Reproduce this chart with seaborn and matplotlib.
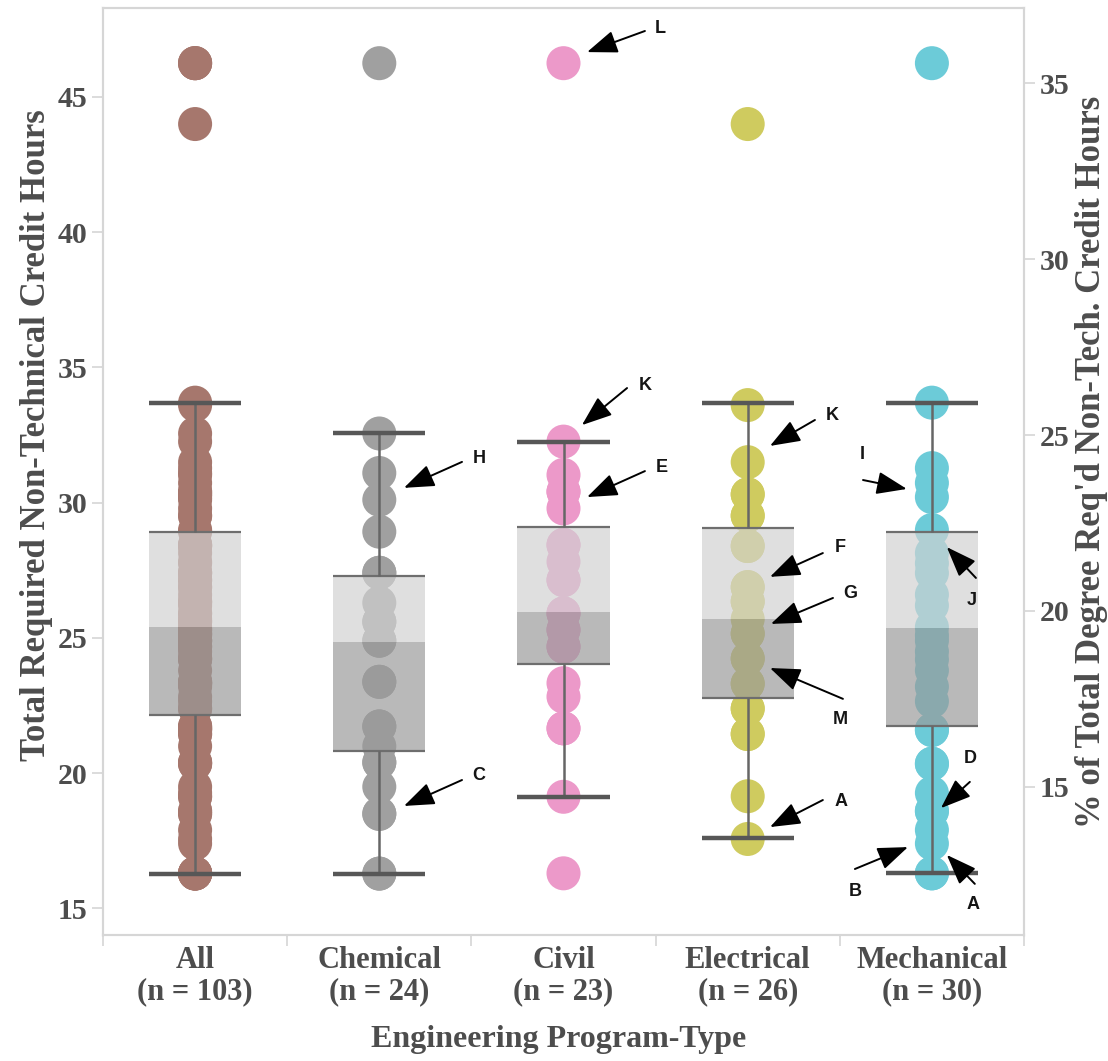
import numpy as np
import pandas as pd
import matplotlib
matplotlib.use("Agg")
import matplotlib.pyplot as plt
import seaborn as sns

# ---------------- data ----------------
categories = ["All", "Chemical", "Civil", "Electrical", "Mechanical"]
counts = [103, 24, 23, 26, 30]

chemical = [46.25, 32.56, 31.10, 30.11, 28.93, 27.41, 27.41, 26.3, 25.6, 25.6,
            24.9, 24.9, 23.38, 23.38, 21.73, 21.73, 21.0, 20.4, 20.4, 19.5,
            18.5, 18.5, 16.29, 16.29]
civil = [46.25, 32.26, 31.03, 30.41, 30.41, 29.79, 28.44, 28.44, 27.82, 27.14,
         27.14, 25.91, 25.91, 25.3, 25.3, 24.68, 24.68, 23.33, 22.83, 21.66,
         21.66, 19.13, 16.30]
electrical = [44.0, 33.61, 31.5, 30.31, 30.31, 29.52, 29.52, 28.4, 28.4, 26.88,
              26.88, 26.35, 26.35, 25.7, 25.16, 25.16, 24.24, 24.24, 23.31, 23.31,
              22.39, 22.39, 21.45, 21.45, 19.15, 17.57]
mechanical = [46.25, 33.7, 31.28, 30.73, 30.21, 28.99, 28.14, 27.76, 27.4, 26.6,
              26.2, 25.4, 25.1, 24.9, 24.5, 24.2, 23.8, 23.2, 22.66, 21.6,
              21.6, 20.35, 20.35, 19.27, 18.6, 18.6, 17.9, 17.4, 16.30, 16.30]
all_programs = chemical + civil + electrical + mechanical

# box-plot statistics (hours)
q1 = [22.17, 20.83, 24.03, 22.79, 21.74]
median = [25.39, 24.86, 25.97, 25.69, 25.38]
q3 = [28.90, 27.28, 29.12, 29.08, 28.91]
whisker_low = [16.29, 16.29, 19.13, 17.60, 16.30]
whisker_high = [33.68, 32.56, 32.26, 33.68, 33.70]

total_degree_hours = 130.0          # right axis: % of total degree hours
left_ticks = [15, 20, 25, 30, 35, 40, 45]
right_ticks = [15, 20, 25, 30, 35]

colors = ["#a6776d", "#a0a0a0", "#ec99c9", "#cfcb5f", "#6ccbd8"]

# ---------------- style ----------------
sns.set_theme(style="white")
plt.rcParams["font.family"] = ["Liberation Serif", "DejaVu Serif"]
plt.rcParams["font.weight"] = "bold"
plt.rcParams["axes.labelweight"] = "bold"

W, H = 1108, 1061
fig = plt.figure(figsize=(W / 100, H / 100), dpi=100)
ax = fig.add_axes([103 / W, 1 - 935 / H, 921 / W, 927 / H])

series = [all_programs, chemical, civil, electrical, mechanical]
df = pd.DataFrame({
    "Program": np.repeat(categories, [len(s) for s in series]),
    "Hours": np.concatenate(series),
})

sns.stripplot(data=df, x="Program", y="Hours", hue="Program", order=categories,
              hue_order=categories, palette=colors, jitter=False, size=24.5,
              linewidth=0, legend=False, ax=ax, zorder=2)

xs = np.arange(len(categories))
bw = 0.5
q1a, meda, q3a = np.array(q1), np.array(median), np.array(q3)
ax.bar(xs, meda - q1a, bottom=q1a, width=bw, color="#999999", alpha=0.68,
       linewidth=0, zorder=3)
ax.bar(xs, q3a - meda, bottom=meda, width=bw, color="#d1d1d1", alpha=0.68,
       linewidth=0, zorder=3)
ax.hlines(q1, xs - bw / 2, xs + bw / 2, color="#6e6e6e", lw=1.6, zorder=4)
ax.hlines(q3, xs - bw / 2, xs + bw / 2, color="#6e6e6e", lw=1.6, zorder=4)
ax.vlines(xs, q3, whisker_high, color="#666666", lw=1.8, zorder=4)
ax.vlines(xs, whisker_low, q1, color="#666666", lw=1.8, zorder=4)
ax.hlines(whisker_high, xs - bw / 2, xs + bw / 2, color="#575757", lw=3.2, zorder=4)
ax.hlines(whisker_low, xs - bw / 2, xs + bw / 2, color="#575757", lw=3.2, zorder=4)

ylo, yhi = 14.02, 48.29
ax.set_xlim(-0.5, 4.5)
ax.set_ylim(ylo, yhi)

txt_col = "#4d4d4d"
grid_col = "#d6d6d6"

ax.set_yticks(left_ticks)
ax.set_yticklabels([str(t) for t in left_ticks])
ax.tick_params(axis="y", left=True, length=8, width=1.2, color=grid_col,
               labelsize=21.5, labelcolor=txt_col, pad=3)
ax.set_xticks(xs)
ax.set_xticklabels([f"{c}\n(n = {n})" for c, n in zip(categories, counts)],
                   linespacing=1.1)
ax.set_xticks(np.arange(-0.5, 5.0, 1.0), minor=True)
ax.tick_params(axis="x", which="major", length=0, labelsize=22, labelcolor=txt_col, pad=8)
ax.tick_params(axis="x", which="minor", bottom=True, length=8, width=1.2, color=grid_col)

for sp in ax.spines.values():
    sp.set_color(grid_col)
    sp.set_linewidth(1.5)

ax.set_xlabel("Engineering Program-Type", fontsize=23, color=txt_col, fontweight="bold")
ax.xaxis.set_label_coords(0.495, -0.113)
ax.xaxis.label.set_va("center")
ax.set_ylabel("Total Required Non-Technical Credit Hours", fontsize=25,
              color=txt_col, fontweight="bold")
ax.yaxis.set_label_coords(-0.0727, 0.539)
ax.yaxis.label.set_va("center")

ax2 = ax.twinx()
ax2.set_ylim(ylo * 100 / total_degree_hours, yhi * 100 / total_degree_hours)
ax2.set_yticks(right_ticks)
ax2.set_yticklabels([str(t) for t in right_ticks])
ax2.tick_params(axis="y", right=True, length=8, width=1.2, color=grid_col,
                labelsize=21.5, labelcolor=txt_col, pad=3)
for sp in ax2.spines.values():
    sp.set_color(grid_col)
    sp.set_linewidth(1.5)
ax2.set_ylabel("% of Total Degree Req'd Non-Tech. Credit Hours", fontsize=25,
               color=txt_col, rotation=90, fontweight="bold")
ax2.yaxis.set_label_coords(1.073, 0.51)
ax2.yaxis.label.set_va("center")

# ---------------- annotations: (label, arrow head, arrow tail, label pos) ----------------
annotations = [
    ("L", (2.128, 46.66), (2.442, 47.44), (2.524, 47.55)),
    ("K", (2.100, 32.87), (2.345, 34.24), (2.442, 34.35)),
    ("E", (2.128, 30.21), (2.442, 31.17), (2.535, 31.32)),
    ("H", (1.134, 30.55), (1.449, 31.51), (1.541, 31.65)),
    ("C", (1.134, 18.79), (1.449, 19.75), (1.541, 19.90)),
    ("K", (3.121, 32.10), (3.365, 33.06), (3.457, 33.24)),
    ("F", (3.121, 27.26), (3.408, 28.14), (3.501, 28.33)),
    ("G", (3.126, 25.52), (3.463, 26.48), (3.555, 26.63)),
    ("M", (3.121, 23.89), (3.517, 22.75), (3.501, 21.97)),
    ("A", (3.121, 18.01), (3.408, 19.01), (3.506, 18.97)),
    ("I", (3.864, 30.51), (3.626, 30.84), (3.620, 31.77)),
    ("J", (4.081, 28.36), (4.239, 27.22), (4.217, 26.40)),
    ("D", (4.049, 18.71), (4.206, 19.68), (4.206, 20.56)),
    ("B", (3.870, 17.27), (3.582, 16.46), (3.582, 15.61)),
    ("A", (4.081, 16.98), (4.233, 15.91), (4.223, 15.13)),
]
for lab, head, tail, pos in annotations:
    ax.annotate("", xy=head, xytext=tail,
                arrowprops=dict(arrowstyle="-|>,head_length=0.85,head_width=0.32",
                                color="black", lw=1.4, shrinkA=0, shrinkB=0,
                                mutation_scale=22), zorder=6)
    ax.text(pos[0], pos[1], lab, ha="center", va="center", fontsize=13,
            fontweight="bold", family=["Liberation Sans", "DejaVu Sans"],
            color="#151515", zorder=6)

fig.savefig("out.png", dpi=100)
